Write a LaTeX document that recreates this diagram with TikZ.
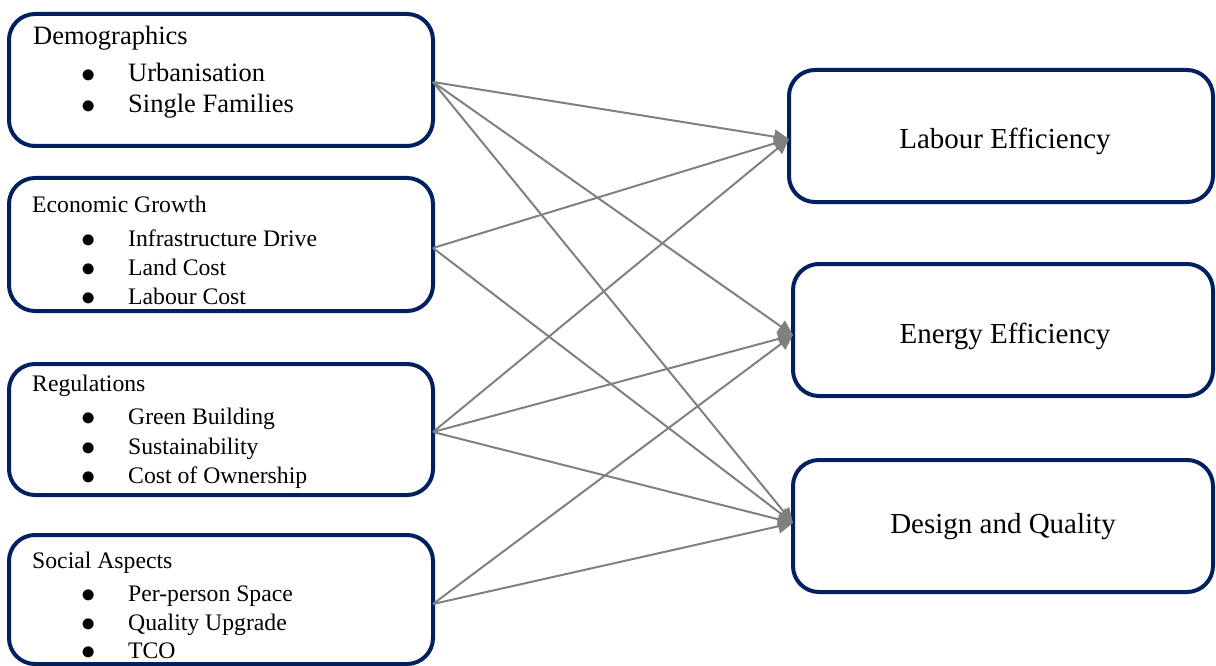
\documentclass[tikz,border=0pt]{standalone}
\usepackage{fontspec}
\setmainfont{Liberation Serif}
\usetikzlibrary{positioning,arrows.meta}
\definecolor{navy}{RGB}{0,32,96}
\newcommand{\itembul}{\makebox[47pt][l]{\raisebox{-1pt}{\scalebox{1.15}{$\bullet$}}}}

\begin{document}
\begin{tikzpicture}[x=1pt, y=-1pt,
	box/.style={draw=navy, line width=4pt, rounded corners=26pt, outer sep=0pt, inner sep=0pt},
	lb/.style={box, minimum width=424pt, minimum height=132pt},
	rb/.style={box, minimum width=420pt, minimum height=132pt, text height=0pt, text depth=0pt, font=\fontsize{29}{34}\selectfont},
	t/.style={anchor=base west, inner sep=0pt, font=\fontsize{23.7}{28}\selectfont},
	tl/.style={t, font=\fontsize{26.5}{31}\selectfont},
	a/.style={draw=gray, line width=2pt, -{Triangle[length=15pt, width=14pt]}}]
		\useasboundingbox (0,0) rectangle (1216,666);

		% left boxes
		\node[lb] (demo) at (221,80) {};
		\node[tl] (demo_t) at (33,45) {Demographics};
		\node[tl] (demo_1) at (81,82) {\itembul Urbanisation};
		\node[tl] (demo_2) at (81,113) {\itembul Single Families};

		\node[lb, minimum height=133pt] (econ) at (221,244.5) {};
		\node[t] (econ_t) at (32,212) {Economic Growth};
		\node[t] (econ_1) at (81,246) {\itembul Infrastructure Drive};
		\node[t] (econ_2) at (81,275) {\itembul Land Cost};
		\node[t] (econ_3) at (81,304) {\itembul Labour Cost};

		\node[lb, minimum height=131pt] (reg) at (221,429.5) {};
		\node[t] (reg_t) at (32,391) {Regulations};
		\node[t] (reg_1) at (81,424) {\itembul Green Building};
		\node[t] (reg_2) at (81,454) {\itembul Sustainability};
		\node[t] (reg_3) at (81,483) {\itembul Cost of Ownership};

		\node[lb, minimum height=129pt] (soc) at (221,599.5) {};
		\node[t] (soc_t) at (32,568) {Social Aspects};
		\node[t] (soc_1) at (81,601) {\itembul Per-person Space};
		\node[t] (soc_2) at (81,630) {\itembul Quality Upgrade};
		\node[t] (soc_3) at (81,658) {\itembul TCO};

		% right boxes
		\node[rb, minimum width=424pt] (lab) at (1001,136) {\hspace{8pt}\raisebox{-13pt}{Labour Efficiency}};
		\node[rb] (ener) at (1003,330) {\hspace{4pt}\raisebox{-13pt}{Energy Efficiency}};
		\node[rb] (des) at (1003,526) {\raisebox{-7pt}{Design and Quality}};

		% arrows
		\path ([yshift=-2pt]demo.east) edge[a] ([yshift=-3pt]lab.west);
		\path ([yshift=-2pt]demo.east) edge[a] ([yshift=-5pt]ener.west);
		\path ([yshift=-2pt]demo.east) edge[a] ([yshift=3pt]des.west);
		\path ([yshift=-3.5pt]econ.east) edge[a] ([yshift=-3pt]lab.west);
		\path ([yshift=-3.5pt]econ.east) edge[a] ([yshift=3pt]des.west);
		\path ([yshift=-2.5pt]reg.east) edge[a] ([yshift=-3pt]lab.west);
		\path ([yshift=-2.5pt]reg.east) edge[a] ([yshift=-5pt]ener.west);
		\path ([yshift=-2.5pt]reg.east) edge[a] ([yshift=3pt]des.west);
		\path ([yshift=-4.5pt]soc.east) edge[a] ([yshift=-5pt]ener.west);
		\path ([yshift=-4.5pt]soc.east) edge[a] ([yshift=3pt]des.west);
	\end{tikzpicture}
\end{document}
